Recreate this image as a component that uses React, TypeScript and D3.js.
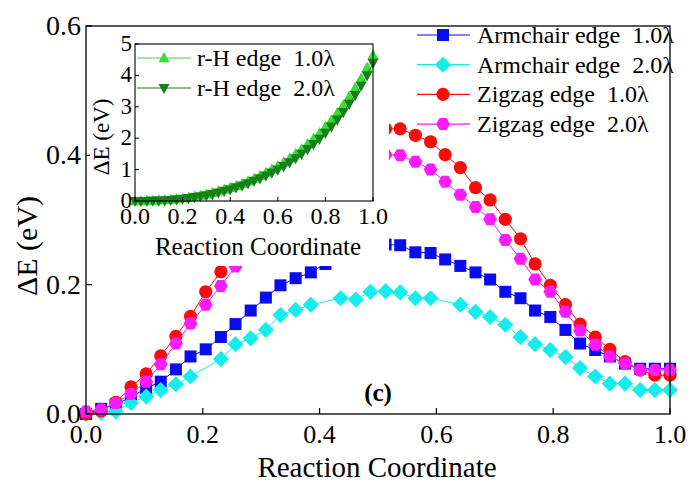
import React from 'react'
import * as d3 from 'd3'

// main panel data (reaction coordinate, eV)
const coord = [
  0, 0.026, 0.051, 0.077, 0.103, 0.128, 0.154, 0.179, 0.205, 0.231,
  0.256, 0.282, 0.308, 0.333, 0.359, 0.385, 0.41, 0.436, 0.462, 0.487,
  0.513, 0.538, 0.564, 0.59, 0.615, 0.641, 0.667, 0.692, 0.718, 0.744,
  0.769, 0.795, 0.821, 0.846, 0.872, 0.897, 0.923, 0.949, 0.974, 1.0,
]
const armchair1 = [
  0.0, 0.008, 0.015, 0.026, 0.04, 0.05, 0.069, 0.089, 0.1, 0.119,
  0.139, 0.16, 0.18, 0.199, 0.21, 0.219, 0.232, 0.245, 0.252, 0.258,
  0.262, 0.261, 0.25, 0.249, 0.239, 0.229, 0.219, 0.208, 0.189, 0.179,
  0.16, 0.15, 0.13, 0.109, 0.099, 0.089, 0.078, 0.07, 0.07, 0.07,
]
// null = no point at that image
const armchair2 = [
  0.0, 0.002, 0.004, 0.017, 0.027, 0.037, 0.046, 0.058, null, 0.085,
  0.108, 0.117, 0.13, 0.153, 0.161, 0.169, null, 0.179, 0.177, 0.189,
  0.19, 0.188, 0.179, 0.179, null, 0.169, 0.158, 0.15, 0.138, 0.119,
  0.108, 0.099, 0.088, 0.071, 0.058, 0.047, 0.047, 0.037, 0.037, 0.037,
]
const zigzag1 = [
  0.0, 0.005, 0.018, 0.042, 0.062, 0.09, 0.12, 0.151, 0.189, 0.22,
  0.25, 0.28, 0.31, 0.335, 0.36, 0.38, 0.4, 0.415, 0.428, 0.437,
  0.441, 0.441, 0.431, 0.421, 0.401, 0.381, 0.35, 0.331, 0.301, 0.271,
  0.232, 0.199, 0.169, 0.139, 0.119, 0.1, 0.081, 0.068, 0.06, 0.06,
]
const zigzag2 = [
  0.004, 0.007, 0.017, 0.031, 0.05, 0.077, 0.109, 0.14, 0.169, 0.198,
  0.228, 0.255, 0.282, 0.305, 0.328, 0.348, 0.365, 0.38, 0.391, 0.398,
  0.401, 0.4, 0.39, 0.378, 0.359, 0.339, 0.32, 0.301, 0.269, 0.24,
  0.208, 0.189, 0.158, 0.129, 0.107, 0.089, 0.078, 0.068, 0.068, 0.068,
]

// inset data
const insetCoord = [
  0, 0.025, 0.05, 0.075, 0.1, 0.125, 0.15, 0.175, 0.2, 0.225,
  0.25, 0.275, 0.3, 0.325, 0.35, 0.375, 0.4, 0.425, 0.45, 0.475,
  0.5, 0.525, 0.55, 0.575, 0.6, 0.625, 0.65, 0.675, 0.7, 0.725,
  0.75, 0.775, 0.8, 0.825, 0.85, 0.875, 0.9, 0.925, 0.95, 0.975, 1.0,
]
const rH1 = [
  0, 0, 0.01, 0.01, 0.02, 0.03, 0.04, 0.06, 0.08, 0.11,
  0.14, 0.17, 0.21, 0.26, 0.31, 0.36, 0.42, 0.48, 0.55, 0.63,
  0.71, 0.8, 0.9, 1.0, 1.11, 1.23, 1.36, 1.5, 1.65, 1.81,
  1.98, 2.16, 2.36, 2.57, 2.8, 3.05, 3.32, 3.6, 3.9, 4.25, 4.65,
]
const rH2 = [
  0, 0, 0, 0.01, 0.01, 0.02, 0.03, 0.05, 0.07, 0.09,
  0.12, 0.15, 0.18, 0.22, 0.27, 0.32, 0.37, 0.43, 0.49, 0.56,
  0.64, 0.72, 0.81, 0.9, 1.0, 1.11, 1.23, 1.36, 1.5, 1.65,
  1.81, 1.98, 2.17, 2.37, 2.59, 2.83, 3.09, 3.37, 3.67, 4.0, 4.4,
]

const mainTicksX = [0, 0.2, 0.4, 0.6, 0.8, 1.0]
const mainTicksY = [0, 0.2, 0.4, 0.6]
const insetTicksX = [0, 0.2, 0.4, 0.6, 0.8, 1.0]
const insetTicksY = [0, 1, 2, 3, 4, 5]

const FONT = 'Liberation Serif, Times New Roman, Times, serif'

const marker = (shape: string, s: number) => {
  switch (shape) {
    case 'square':
      return `M${-s},${-s}H${s}V${s}H${-s}Z`
    case 'diamond': {
      const r = s * 1.35
      return `M0,${-r}L${r},0L0,${r}L${-r},0Z`
    }
    case 'hexagon': {
      const r = s * 1.15
      return (
        d3
          .range(6)
          .map((i) => {
            const a = (Math.PI / 3) * i
            return `${i ? 'L' : 'M'}${(r * Math.cos(a)).toFixed(2)},${(r * Math.sin(a)).toFixed(2)}`
          })
          .join('') + 'Z'
      )
    }
    case 'up':
      return `M0,${-s * 1.1}L${s},${s * 0.75}L${-s},${s * 0.75}Z`
    case 'down':
      return `M0,${s * 1.1}L${s},${-s * 0.75}L${-s},${-s * 0.75}Z`
    default:
      return d3.symbol(d3.symbolCircle, Math.PI * s * s * 1.1)() as string
  }
}

const mainSeries = [
  { name: 'Armchair edge  1.0λ', values: armchair1, color: '#0b0bf0', shape: 'square', size: 6 },
  { name: 'Armchair edge  2.0λ', values: armchair2, color: '#15eded', shape: 'diamond', size: 6 },
  { name: 'Zigzag edge  1.0λ', values: zigzag1, color: '#ff0a0a', shape: 'circle', size: 6.3 },
  { name: 'Zigzag edge  2.0λ', values: zigzag2, color: '#ff1aff', shape: 'hexagon', size: 6 },
]
const insetSeries = [
  { name: 'r-H edge  1.0λ', values: rH1, color: '#33e033', shape: 'up', size: 5.5 },
  { name: 'r-H edge  2.0λ', values: rH2, color: '#17801a', shape: 'down', size: 5.5 },
]

export default function App() {
  const x = d3.scaleLinear().domain([0, 1]).range([86, 670])
  const y = d3.scaleLinear().domain([0, 0.6]).range([414, 26])
  const ix = d3.scaleLinear().domain([0, 1]).range([135, 373])
  const iy = d3.scaleLinear().domain([0, 5]).range([201, 44])

  const mainLine = d3
    .line<[number, number]>()
    .x((d) => x(d[0]))
    .y((d) => y(d[1]))
  const insetLine = d3
    .line<[number, number]>()
    .x((d) => ix(d[0]))
    .y((d) => iy(d[1]))

  const txt = { fontFamily: FONT, whiteSpace: 'pre' as const }

  return (
    <svg width={692} height={488} style={{ display: 'block', position: 'absolute', left: 0, top: 0, background: '#fff', fontFamily: FONT }}>
      <rect width={692} height={488} fill="#fff" />

      {/* main data */}
      {mainSeries.map((s) => {
        const pts = coord
          .map((c, i) => [c, s.values[i]] as [number, number | null])
          .filter((p) => p[1] != null) as [number, number][]
        return (
          <g key={s.name}>
            <path d={mainLine(pts) || ''} fill="none" stroke={s.color} strokeWidth={1} />
            {pts.map((p, i) => (
              <path key={i} d={marker(s.shape, s.size)} transform={`translate(${x(p[0])},${y(p[1])})`} fill={s.color} />
            ))}
          </g>
        )
      })}

      {/* main frame */}
      <rect x={86} y={26} width={584} height={388} fill="none" stroke="#000" strokeWidth={1.3} />
      {mainTicksX.map((t) => (
        <g key={'mx' + t}>
          <line x1={x(t)} x2={x(t)} y1={414} y2={408} stroke="#000" strokeWidth={1.2} />
          <text x={x(t)} y={443} fontSize={26} textAnchor="middle" style={txt}>
            {t.toFixed(1)}
          </text>
        </g>
      ))}
      {mainTicksY.map((t) => (
        <g key={'my' + t}>
          <line x1={86} x2={92} y1={y(t)} y2={y(t)} stroke="#000" strokeWidth={1.2} />
          <text x={81} y={y(t) + 9} fontSize={28} textAnchor="end" style={txt}>
            {t.toFixed(1)}
          </text>
        </g>
      ))}
      <text x={377} y={477} fontSize={29} textAnchor="middle" style={txt}>
        Reaction Coordinate
      </text>
      <text transform="translate(37,246) rotate(-90)" fontSize={30} textAnchor="middle" style={txt}>
        ΔE (eV)
      </text>
      <text x={378} y={401} fontSize={25} fontWeight="bold" textAnchor="middle" style={txt}>
        (c)
      </text>

      {/* main legend */}
      {mainSeries.map((s, i) => {
        const ly = 35 + i * 29.7
        return (
          <g key={'lg' + s.name}>
            <line x1={417} x2={470} y1={ly} y2={ly} stroke={s.color} strokeWidth={1.2} />
            <path d={marker(s.shape, s.size)} transform={`translate(443,${ly})`} fill={s.color} />
            <text x={477} y={ly + 8} fontSize={24} style={txt}>
              {s.name}
            </text>
          </g>
        )
      })}

      {/* inset: white panel hides the main data behind it */}
      <rect x={90} y={28} width={299} height={238} fill="#fff" />
      {insetSeries.map((s) => {
        const pts = insetCoord.map((c, i) => [c, s.values[i]] as [number, number])
        return (
          <g key={s.name}>
            <path d={insetLine(pts) || ''} fill="none" stroke={s.color} strokeWidth={1} />
            {pts.map((p, i) => (
              <path key={i} d={marker(s.shape, s.size)} transform={`translate(${ix(p[0])},${iy(p[1])})`} fill={s.color} />
            ))}
          </g>
        )
      })}
      <rect x={135} y={44} width={238} height={157} fill="none" stroke="#000" strokeWidth={1.1} />
      {insetTicksX.map((t) => (
        <g key={'ix' + t}>
          <line x1={ix(t)} x2={ix(t)} y1={201} y2={197} stroke="#000" strokeWidth={1} />
          <text x={ix(t)} y={224} fontSize={24} textAnchor="middle" style={txt}>
            {t.toFixed(1)}
          </text>
        </g>
      ))}
      {insetTicksY.map((t) => (
        <g key={'iy' + t}>
          <line x1={135} x2={139} y1={iy(t)} y2={iy(t)} stroke="#000" strokeWidth={1} />
          <text x={132} y={iy(t) + 7} fontSize={23} textAnchor="end" style={txt}>
            {t}
          </text>
        </g>
      ))}
      <text x={258} y={255} fontSize={25} textAnchor="middle" style={txt}>
        Reaction Coordinate
      </text>
      <text transform="translate(109,137) rotate(-90)" fontSize={23} textAnchor="middle" style={txt}>
        ΔE (eV)
      </text>
      {insetSeries.map((s, i) => {
        const ly = 58 + i * 30
        return (
          <g key={'ilg' + s.name}>
            <line x1={137} x2={191} y1={ly} y2={ly} stroke={s.color} strokeWidth={1.2} />
            <path d={marker(s.shape, s.size)} transform={`translate(164,${ly})`} fill={s.color} />
            <text x={197} y={ly + 8} fontSize={24} style={txt}>
              {s.name}
            </text>
          </g>
        )
      })}
    </svg>
  )
}
